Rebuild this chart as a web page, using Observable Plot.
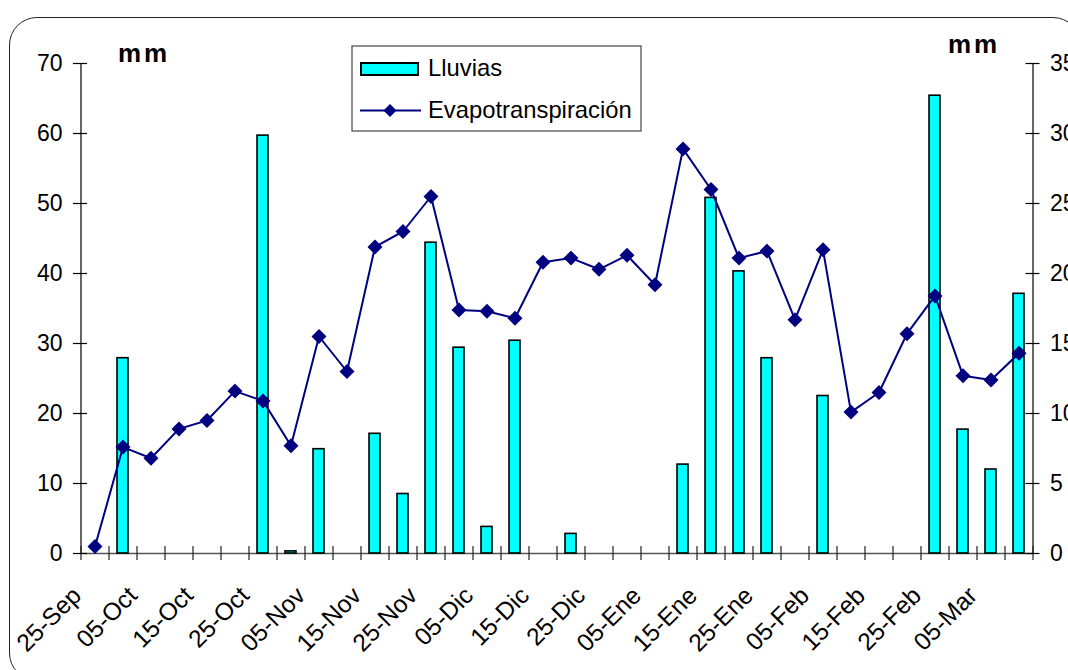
<!DOCTYPE html>
<html><head><meta charset="utf-8">
<script src="https://cdn.jsdelivr.net/npm/d3@7"></script>
<script src="https://cdn.jsdelivr.net/npm/@observablehq/plot@0.6"></script>
<style>
body{margin:0;background:#fff;}
#wrap{position:relative;width:1068px;height:670px;overflow:hidden;font-family:"Liberation Sans",Arial,sans-serif;background:#fff;}
#border{position:absolute;left:9px;top:17px;width:1072px;height:664px;border:1.5px solid #222;border-radius:28px;box-sizing:border-box;}
#chart{position:absolute;left:0;top:0;}
#overlay{position:absolute;left:0;top:0;pointer-events:none;}
</style></head>
<body>
<div id="wrap"><div id="border"></div><div id="chart"></div><svg id="overlay" width="1068" height="670"></svg></div>
<script>
// Categories (pentads) on the x axis
const dates = ["25-Sep","30-Sep","05-Oct","10-Oct","15-Oct","20-Oct","25-Oct","30-Oct","05-Nov","10-Nov","15-Nov","20-Nov","25-Nov","30-Nov","05-Dic","10-Dic","15-Dic","20-Dic","25-Dic","30-Dic","05-Ene","10-Ene","15-Ene","20-Ene","25-Ene","30-Ene","05-Feb","10-Feb","15-Feb","20-Feb","25-Feb","01-Mar","05-Mar","10-Mar"];
// Tick labels shown on the x axis
const labelDates = ["25-Sep","05-Oct","15-Oct","25-Oct","05-Nov","15-Nov","25-Nov","05-Dic","15-Dic","25-Dic","05-Ene","15-Ene","25-Ene","05-Feb","15-Feb","25-Feb","05-Mar"];
// Lluvias (mm, left axis)
const lluvias = [null,27.9,null,null,null,null,59.7,0.3,14.9,null,17.1,8.5,44.4,29.4,3.8,30.4,null,2.8,null,null,null,12.7,50.8,40.3,27.9,null,22.5,null,null,null,65.4,17.7,12.0,37.1];
// Evapotranspiración (mm, right axis)
const evapo = [0.5,7.6,6.8,8.9,9.5,11.6,10.9,7.7,15.5,13.0,21.9,23.0,25.5,17.4,17.3,16.8,20.8,21.1,20.3,21.3,19.2,28.9,26.0,21.1,21.6,16.7,21.7,10.1,11.5,15.7,18.4,12.7,12.4,14.3];
// Axis ticks
const leftTicks = [0,10,20,30,40,50,60,70];
const rightTicks = [0,5,10,15,20,25,30,35];
const rightFactor = 70/35;

const W=1068,H=670, ML=80, MR=35.5, MT=63, MB=117;
const PW = W-ML-MR, PH = H-MT-MB;
const step = PW/dates.length;
const barW = 11.5;
const pInner = 1 - barW/step;
const rows = dates.map((d,i)=>({date:d, rain: lluvias[i], et: evapo[i]}));
const font = '"Liberation Sans", Arial, sans-serif';

const chart = Plot.plot({
  width:W, height:H, marginLeft:ML, marginRight:MR, marginTop:MT, marginBottom:MB,
  style:{fontFamily:font, fontSize:"23px", color:"#000", background:"transparent"},
  x:{type:"band", domain:dates, paddingInner:pInner, paddingOuter:pInner/2, align:0.5},
  y:{domain:[0,70]},
  marks:[
    Plot.ruleY([0], {stroke:"#555", strokeWidth:1.3}),
    Plot.ruleX([dates[0]], {dx:-step/2, stroke:"#000", strokeWidth:1.2}),
    Plot.ruleX([dates[dates.length-1]], {dx:step/2, stroke:"#000", strokeWidth:1.2}),
    Plot.ruleX(dates, {dx:-step/2, insetTop:PH-7, insetBottom:-7, stroke:"#222", strokeWidth:1.2}),
    Plot.ruleX([dates[dates.length-1]], {dx:step/2, insetTop:PH-7, insetBottom:-7, stroke:"#222", strokeWidth:1.2}),
    Plot.ruleY(leftTicks, {insetLeft:-7, insetRight:PW-7, stroke:"#000", strokeWidth:1.2}),
    Plot.ruleY(rightTicks.map(v=>v*rightFactor), {insetLeft:PW-7, insetRight:-7, stroke:"#000", strokeWidth:1.2}),
    Plot.axisY({ticks:leftTicks, tickSize:0, tickPadding:18, anchor:"left", label:null}),
    Plot.axisY({ticks:rightTicks.map(v=>v*rightFactor), tickFormat:d=>String(d/rightFactor), tickSize:0, tickPadding:17, anchor:"right", label:null}),
    Plot.axisX({ticks:labelDates, tickSize:0, tickRotate:-45, tickPadding:38, dx:-18, fontSize:24.5, label:null}),
    Plot.barY(rows.filter(d=>d.rain!=null), {x:"date", y:"rain", fill:"#00FFFF", stroke:"#000", strokeWidth:1.6}),
    Plot.line(rows, {x:"date", y:d=>d.et*rightFactor, stroke:"#000080", strokeWidth:2}),
    Plot.dot(rows, {x:"date", y:d=>d.et*rightFactor, symbol:"diamond2", r:5.8, fill:"#000080", stroke:"#000080"})
  ]
});
document.getElementById("chart").appendChild(chart);

// Legend and unit labels
const ov = d3.select("#overlay");
ov.append("text").attr("x",118).attr("y",62).attr("font-family",font).attr("font-weight","bold").attr("font-size",26).attr("letter-spacing",3).text("mm");
ov.append("text").attr("x",948).attr("y",53).attr("font-family",font).attr("font-weight","bold").attr("font-size",26).attr("letter-spacing",3).text("mm");
const lg = ov.append("g");
lg.append("rect").attr("x",352).attr("y",46).attr("width",289).attr("height",85).attr("fill","#fff").attr("stroke","#444").attr("stroke-width",1.2);
lg.append("rect").attr("x",361).attr("y",63).attr("width",57).attr("height",12).attr("fill","#00FFFF").attr("stroke","#000").attr("stroke-width",2);
lg.append("text").attr("x",428).attr("y",76).attr("font-family",font).attr("font-size",23.8).text("Lluvias");
lg.append("line").attr("x1",360).attr("x2",421).attr("y1",110.5).attr("y2",110.5).attr("stroke","#000080").attr("stroke-width",2);
lg.append("path").attr("d","M390,104 L396.5,110.5 L390,117 L383.5,110.5 Z").attr("fill","#000080");
lg.append("text").attr("x",428).attr("y",118).attr("font-family",font).attr("font-size",23.8).text("Evapotranspiración");
</script>
</body></html>
